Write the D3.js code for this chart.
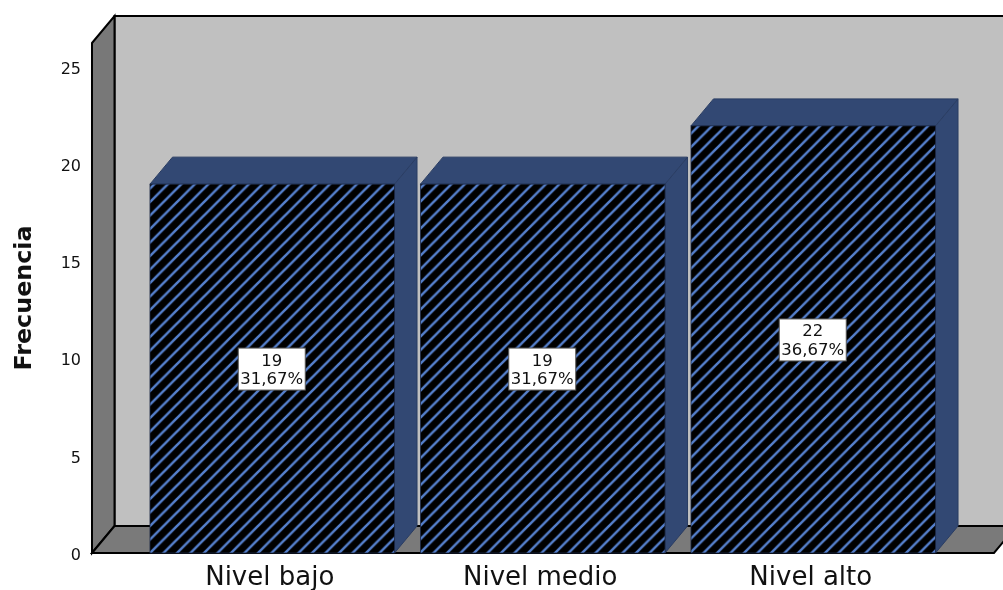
<!DOCTYPE html>
<html><head><meta charset="utf-8">
<script src="https://cdn.jsdelivr.net/npm/d3@7"></script>
<style>html,body{margin:0;padding:0;background:#fff;overflow:hidden}svg{display:block}text{font-family:"DejaVu Sans",sans-serif;filter:blur(0.4px)}.soft{filter:blur(0.4px)}</style>
</head><body><div id="c"></div>
<script>
const categories = ["Nivel bajo", "Nivel medio", "Nivel alto"];
const counts = [19, 19, 22];
const percents = ["31,67%", "31,67%", "36,67%"];
const yTicks = [0, 5, 10, 15, 20, 25];
const yTitle = "Frecuencia";

const W = 1003, H = 590, dx = 22.5, dy = -27;
const svg = d3.select("#c").append("svg").attr("width", W).attr("height", H);
const y = d3.scaleLinear().domain([0, 26.27]).range([553, 43]);
const x = d3.scaleBand().domain(categories).range([137, 948.5]).paddingInner(0.096).paddingOuter(0.048);
const left = 92, right = 994, y0 = y(0), yT = y.range()[1];
const poly = pts => pts.map(p => p.join(",")).join(" ");

const defs = svg.append("defs");
const pat = defs.append("pattern").attr("id", "hatch").attr("patternUnits", "userSpaceOnUse")
  .attr("width", 13.5).attr("height", 13.5).attr("patternTransform", "translate(150,553)");
pat.append("rect").attr("width", 13.5).attr("height", 13.5).attr("fill", "#000");
pat.append("path").attr("d", "M-3,3L3,-3M-3,16.5L16.5,-3M10.5,16.5L16.5,10.5")
  .attr("stroke", "#5580cc").attr("stroke-width", 2.5).attr("fill", "none");

// chart box
const box = svg.append("g").attr("class", "soft");
box.append("polygon").attr("points", poly([[left + dx, yT + dy], [right + dx + 40, yT + dy], [right + dx + 40, y0 + dy], [left + dx, y0 + dy]])).attr("fill", "#c0c0c0").attr("stroke", "#000").attr("stroke-width", 2);
box.append("polygon").attr("points", poly([[left, yT], [left + dx, yT + dy], [left + dx, y0 + dy], [left, y0]])).attr("fill", "#787878").attr("stroke", "#000").attr("stroke-width", 2);
box.append("polygon").attr("points", poly([[left, y0], [left + dx, y0 + dy], [right + dx, y0 + dy], [right, y0]])).attr("fill", "#7a7a7a").attr("stroke", "#000").attr("stroke-width", 2);

// bars
const bars = svg.selectAll("g.bar").data(categories.map((c, i) => ({c, v: counts[i], p: percents[i]}))).join("g").attr("class", "bar");
bars.append("polygon").attr("fill", "#324873").attr("stroke", "#2a3d63").attr("stroke-width", 1)
  .attr("points", d => { const a = x(d.c) + x.bandwidth(), t = y(d.v); return poly([[a, t], [a + dx, t + dy], [a + dx, y0 + dy], [a, y0]]); });
bars.append("polygon").attr("fill", "#324873").attr("stroke", "#2a3d63").attr("stroke-width", 1)
  .attr("points", d => { const a = x(d.c), b = a + x.bandwidth(), t = y(d.v); return poly([[a, t], [a + dx, t + dy], [b + dx, t + dy], [b, t]]); });
bars.append("rect").attr("x", d => x(d.c)).attr("y", d => y(d.v)).attr("width", x.bandwidth()).attr("height", d => y0 - y(d.v))
  .attr("fill", "url(#hatch)").attr("stroke", "#1d2a47").attr("stroke-width", 0.8);

// value labels
const lab = bars.append("g").attr("transform", d => `translate(${x(d.c) + x.bandwidth() / 2 - 0.5},${y(d.v / 2) + 0.5})`);
lab.append("rect").attr("x", -33.5).attr("y", -21).attr("width", 67).attr("height", 42).attr("fill", "#fff").attr("stroke", "#555").attr("stroke-width", 1);
lab.append("text").attr("text-anchor", "middle").attr("y", -3.5).attr("font-size", 16.5).attr("fill", "#111").text(d => d.v);
lab.append("text").attr("text-anchor", "middle").attr("y", 15).attr("font-size", 16.5).attr("fill", "#111").text(d => d.p);

// axes
const yAxis = d3.axisLeft(y).tickValues(yTicks).tickSize(0).tickPadding(0);
const gy = svg.append("g").attr("transform", "translate(81,1)").call(yAxis);
gy.select(".domain").remove();
gy.selectAll("text").attr("font-size", 16).attr("fill", "#111").style("font-family", '"DejaVu Sans",sans-serif');

const xAxis = d3.axisBottom(x).tickSize(0).tickPadding(0);
const gx = svg.append("g").attr("transform", `translate(-2.5,${y0 + 14})`).call(xAxis);
gx.select(".domain").remove();
gx.selectAll("text").attr("font-size", 26).attr("fill", "#111").style("font-family", '"DejaVu Sans",sans-serif');

svg.append("text").attr("transform", "translate(31,298) rotate(-90)").attr("text-anchor", "middle")
  .attr("font-size", 23.8).attr("font-weight", "bold").attr("fill", "#111").text(yTitle);
</script></body></html>
